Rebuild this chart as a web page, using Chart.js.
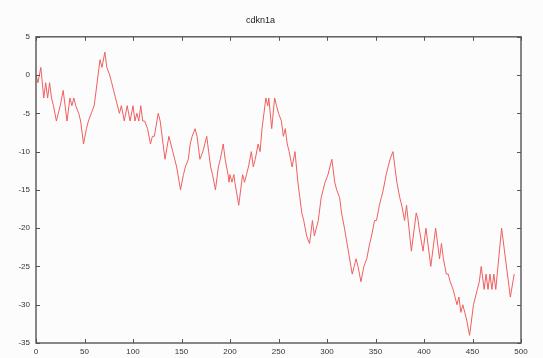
<!DOCTYPE html>
<html>
<head>
<meta charset="utf-8">
<script src="https://cdn.jsdelivr.net/npm/chart.js@4/dist/chart.umd.min.js"></script>
<style>
  html, body { margin: 0; padding: 0; background: #fcfcfc; }
  #wrap { width: 543px; height: 358px; }
</style>
</head>
<body>
<div id="wrap"><canvas id="walk"></canvas></div>
<script>
const chartTitle = 'cdkn1a';

// turning points of the walk (position, cumulative score)
const walkX = [
  0, 2, 5, 8, 10, 12, 14, 16, 18, 21, 23, 25, 28, 32, 35, 37, 39, 41, 44, 46,
  49, 52, 54, 57, 60, 66, 68, 71, 73, 76, 78, 80, 82, 86, 88, 91, 94, 97, 100, 102,
  104, 106, 108, 110, 112, 115, 118, 120, 122, 126, 128, 133, 137, 141, 143, 145, 149, 152, 154, 157,
  159, 161, 164, 166, 169, 172, 174, 176, 178, 180, 182, 185, 188, 190, 193, 195, 198, 199, 200, 202,
  204, 205, 209, 213, 215, 217, 219, 222, 224, 226, 229, 231, 233, 235, 237, 239, 240, 243, 246, 248,
  250, 253, 255, 257, 259, 261, 264, 267, 270, 272, 274, 276, 279, 282, 285, 287, 289, 291, 294, 296,
  298, 301, 305, 308, 310, 313, 315, 318, 322, 326, 328, 330, 332, 335, 338, 341, 344, 346, 349, 351,
  354, 356, 358, 361, 363, 365, 368, 372, 375, 377, 380, 382, 387, 392, 394, 395, 399, 402, 407, 412,
  416, 418, 420, 423, 425, 427, 430, 432, 434, 436, 438, 440, 442, 444, 447, 451, 453, 455, 457, 459,
  462, 464, 466, 468, 470, 472, 474, 480, 489, 493
];
const walkY = [
  0, -1, 1, -3, -1, -3, -1, -3, -4, -6, -5, -4, -2, -6, -3, -4, -3, -4, -5, -6,
  -9, -7, -6, -5, -4, 2, 1, 3, 1, 0, -1, -2, -3, -5, -4, -6, -4, -6, -4, -6,
  -5, -6, -4, -6, -6, -7, -9, -8, -8, -5, -6, -11, -8, -10, -11, -12, -15, -13, -12, -11,
  -9, -8, -7, -8, -11, -10, -9, -8, -10, -12, -13, -15, -12, -11, -9, -11, -13, -14, -13, -14,
  -13, -14, -17, -13, -14, -13, -12, -10, -12, -11, -9, -10, -7, -5, -3, -4, -3, -7, -3, -4,
  -5, -6, -8, -7, -9, -10, -12, -10, -14, -16, -18, -19, -21, -22, -19, -21, -20, -19, -16, -15,
  -14, -13, -11, -14, -15, -16, -18, -20, -23, -26, -25, -24, -25, -27, -25, -24, -22, -21, -19, -19,
  -17, -16, -15, -13, -12, -11, -10, -14, -16, -17, -19, -17, -23, -18, -19, -20, -23, -20, -25, -20,
  -24, -22, -24, -26, -26, -27, -28, -29, -30, -29, -31, -30, -31, -32, -34, -30, -29, -28, -27, -25,
  -28, -26, -28, -26, -28, -26, -28, -20, -29, -26
];

const xTicks = [0, 50, 100, 150, 200, 250, 300, 350, 400, 450, 500];
const yTicks = [5, 0, -5, -10, -15, -20, -25, -30, -35];

const frameColor = '#555';
const tickFont = { family: 'Liberation Sans, Arial, sans-serif', size: 8 };

// gnuplot-style box with inward ticks on all four sides
const framePlugin = {
  id: 'frame',
  afterDatasetsDraw(chart) {
    const { ctx, chartArea: a, scales } = chart;
    const len = 4;
    ctx.save();
    ctx.strokeStyle = frameColor;
    ctx.lineWidth = 1;
    ctx.beginPath();
    xTicks.forEach(v => {
      const px = Math.round(scales.x.getPixelForValue(v)) + 0.5;
      ctx.moveTo(px, a.bottom); ctx.lineTo(px, a.bottom - len);
      ctx.moveTo(px, a.top); ctx.lineTo(px, a.top + len);
    });
    yTicks.forEach(v => {
      const py = Math.round(scales.y.getPixelForValue(v)) + 0.5;
      ctx.moveTo(a.left, py); ctx.lineTo(a.left + len, py);
      ctx.moveTo(a.right, py); ctx.lineTo(a.right - len, py);
    });
    ctx.stroke();
    ctx.lineWidth = 1.4;
    ctx.strokeRect(a.left, a.top, a.right - a.left, a.bottom - a.top);
    ctx.restore();
  }
};

new Chart(document.getElementById('walk'), {
  type: 'line',
  data: {
    datasets: [{
      data: walkX.map((x, i) => ({ x: x, y: walkY[i] })),
      borderColor: 'rgb(240, 95, 95)',
      borderWidth: 1,
      pointRadius: 0,
      tension: 0,
      fill: false,
    }],
  },
  options: {
    responsive: true,
    maintainAspectRatio: false,
    animation: false,
    layout: { padding: { left: 0, right: 22, top: 0, bottom: 0 } },
    plugins: {
      legend: { display: false },
      tooltip: { enabled: false },
      title: {
        display: true,
        text: chartTitle,
        color: '#222',
        font: { family: 'Liberation Sans, Arial, sans-serif', size: 9, weight: 'normal' },
        padding: { top: 15, bottom: 11 },
      },
    },
    scales: {
      x: {
        type: 'linear',
        min: 0,
        max: 500,
        afterFit: (s) => { s.height = 15; },
        afterBuildTicks: (s) => { s.ticks = xTicks.map(v => ({ value: v })); },
        grid: { display: false, drawTicks: false, tickLength: 0 },
        border: { display: false },
        ticks: { color: '#333', font: tickFont, padding: 4, maxRotation: 0, autoSkip: false },
      },
      y: {
        type: 'linear',
        min: -35,
        max: 5,
        afterFit: (s) => { s.width = 36; },
        afterBuildTicks: (s) => { s.ticks = yTicks.map(v => ({ value: v })); },
        grid: { display: false, drawTicks: false, tickLength: 0 },
        border: { display: false },
        ticks: { color: '#333', font: tickFont, padding: 6 },
      },
    },
  },
  plugins: [framePlugin],
});
</script>
</body>
</html>
